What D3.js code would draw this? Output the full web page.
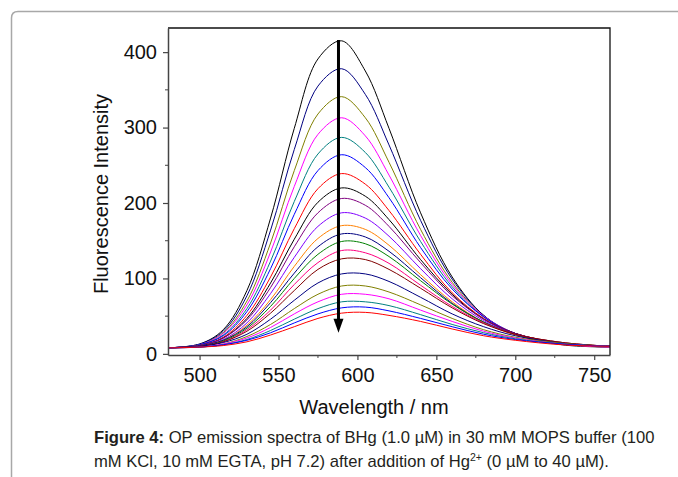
<!DOCTYPE html>
<html>
  <head>
    <meta charset="utf-8">
    <script src="https://d3js.org/d3.v7.min.js"></script>
    <title>OP emission spectra</title>
    <style>
      body { margin: 0px; background: #fff; }
    </style>
  </head>
  <body>
    <script>
      // sample wavelengths (nm) for every spectrum
      const wavelengths = [480, 500, 515, 530, 545, 560, 575, 590, 605, 620, 640, 660, 680, 700, 730, 760];
      // Hg2+ added (µM), one spectrum each, top to bottom
      const hgConc = [0, 2, 4, 6, 8, 10, 12, 14, 16, 18, 20, 22, 24, 26, 28, 30, 32, 34, 36, 38, 40];
      const intensity = [
        [8, 13, 32, 84, 180, 299, 391, 415, 375, 299, 187, 102, 51, 26, 12, 9],
        [8, 13, 30, 77, 164, 271, 355, 378, 344, 277, 177, 99, 51, 27, 13, 9],
        [8, 12, 28, 70, 147, 243, 318, 341, 313, 254, 165, 95, 50, 27, 13, 9],
        [8, 12, 27, 65, 135, 222, 291, 313, 289, 237, 157, 92, 50, 27, 13, 9],
        [8, 12, 25, 60, 123, 202, 265, 287, 267, 221, 149, 89, 49, 27, 14, 10],
        [8, 12, 24, 56, 113, 185, 243, 264, 247, 207, 141, 86, 49, 27, 14, 10],
        [8, 11, 22, 51, 102, 166, 219, 239, 225, 190, 132, 81, 47, 27, 14, 10],
        [8, 11, 21, 47, 94, 152, 201, 220, 209, 178, 125, 79, 46, 27, 14, 10],
        [8, 11, 21, 45, 88, 142, 187, 206, 197, 169, 121, 77, 46, 27, 14, 10],
        [8, 11, 19, 41, 80, 128, 169, 187, 180, 156, 113, 73, 44, 26, 14, 10],
        [8, 11, 18, 38, 72, 116, 153, 170, 165, 144, 105, 69, 42, 25, 14, 10],
        [8, 11, 18, 36, 68, 107, 142, 159, 155, 136, 101, 67, 42, 26, 14, 10],
        [8, 10, 17, 34, 63, 100, 132, 149, 146, 129, 97, 66, 42, 26, 15, 10],
        [8, 10, 16, 32, 58, 92, 121, 137, 134, 120, 91, 63, 41, 26, 15, 10],
        [8, 10, 16, 30, 54, 84, 112, 126, 125, 112, 87, 61, 40, 26, 15, 10],
        [8, 10, 15, 26, 46, 71, 94, 106, 106, 96, 75, 53, 36, 24, 14, 10],
        [8, 9, 13, 23, 39, 60, 79, 90, 90, 82, 65, 47, 32, 22, 14, 10],
        [8, 9, 13, 21, 35, 53, 69, 79, 79, 73, 58, 43, 30, 21, 13, 10],
        [8, 9, 12, 19, 31, 46, 60, 69, 69, 64, 52, 39, 28, 20, 13, 10],
        [8, 9, 12, 18, 28, 41, 53, 61, 62, 57, 47, 36, 26, 19, 13, 10],
        [8, 9, 11, 16, 25, 36, 47, 54, 55, 51, 43, 33, 24, 18, 12, 10]
      ];
      const lineColors = ['#000000', '#000080', '#808000', '#ff00ff', '#008080', '#0000ff', '#ff0000',
        '#000000', '#800080', '#8000ff', '#ff8000', '#000080', '#008000', '#ff0080', '#800000',
        '#000080', '#808000', '#ff00ff', '#008080', '#0000ff', '#ff0000'];
      const xTicks = [500, 550, 600, 650, 700, 750];
      const xMinor = [525, 575, 625, 675, 725];
      const yTicks = [0, 100, 200, 300, 400];
      const yMinor = [50, 150, 250, 350];
      // arrow: wavelength, from / to intensity
      const arrowX = 588, arrowFrom = 416, arrowTo = 28;

      const font = "'Liberation Sans', Arial, sans-serif";
      const margin = { left: 168, right: 68, top: 28, bottom: 122 };
      const width = 678, height = 477;
      const innerWidth = width - margin.left - margin.right;
      const innerHeight = height - margin.top - margin.bottom;

      const svg = d3.select('body').append('svg')
        .attr('width', width)
        .attr('height', height);

      // page frame
      svg.append('path')
        .attr('d', 'M11.5,480 L11.5,18 Q11.5,11.5 18,11.5 L690,11.5')
        .attr('fill', 'none')
        .attr('stroke', '#a8a8a8')
        .attr('stroke-width', 1.5);

      const g = svg.append('g')
        .attr('transform', `translate(${margin.left},${margin.top})`);

      const xScale = d3.scaleLinear().domain([480, 760]).range([0, innerWidth]);
      const yScale = d3.scaleLinear().domain([-1.5, 432]).range([innerHeight, 0]);

      const line = d3.line()
        .x((d, i) => xScale(wavelengths[i]))
        .y(d => yScale(d))
        .curve(d3.curveCatmullRom.alpha(0.5));

      g.selectAll('path.spectrum').data(intensity)
        .enter().append('path')
          .attr('class', 'spectrum')
          .attr('d', line)
          .attr('fill', 'none')
          .attr('stroke', (d, i) => lineColors[i])
          .attr('stroke-width', 1);

      // top / right frame
      g.append('path')
        .attr('d', `M0,0 H${innerWidth} V${innerHeight}`)
        .attr('fill', 'none')
        .attr('stroke', '#111')
        .attr('stroke-width', 1.3);

      const xAxis = d3.axisBottom(xScale).tickValues(xTicks).tickSize(5).tickPadding(8).tickSizeOuter(0);
      const yAxis = d3.axisLeft(yScale).tickValues(yTicks).tickSize(5).tickPadding(6).tickSizeOuter(0);

      const xAxisG = g.append('g').attr('transform', `translate(0,${innerHeight})`).call(xAxis);
      const yAxisG = g.append('g').call(yAxis);
      [xAxisG, yAxisG].forEach(a => {
        a.attr('font-size', 20).attr('font-family', font);
        a.select('.domain').attr('stroke', '#444').attr('stroke-width', 1.5);
        a.selectAll('.tick line').attr('stroke', '#444').attr('stroke-width', 1.2);
        a.selectAll('.tick text').attr('fill', '#111');
      });

      xAxisG.selectAll('line.minor').data(xMinor)
        .enter().append('line')
          .attr('class', 'minor')
          .attr('x1', d => xScale(d)).attr('x2', d => xScale(d))
          .attr('y1', 0).attr('y2', 3)
          .attr('stroke', '#444');
      yAxisG.selectAll('line.minor').data(yMinor)
        .enter().append('line')
          .attr('class', 'minor')
          .attr('y1', d => yScale(d)).attr('y2', d => yScale(d))
          .attr('x1', 0).attr('x2', -3)
          .attr('stroke', '#444');

      // arrow
      g.append('line')
        .attr('x1', xScale(arrowX)).attr('x2', xScale(arrowX))
        .attr('y1', yScale(arrowFrom)).attr('y2', yScale(arrowTo) - 12)
        .attr('stroke', '#000')
        .attr('stroke-width', 3);
      g.append('path')
        .attr('d', `M${xScale(arrowX) - 5},${yScale(arrowTo) - 14} L${xScale(arrowX) + 5},${yScale(arrowTo) - 14} L${xScale(arrowX)},${yScale(arrowTo)} Z`)
        .attr('fill', '#000');

      // axis titles
      svg.append('text')
        .attr('x', 374)
        .attr('y', 414)
        .attr('text-anchor', 'middle')
        .attr('font-size', 20).attr('font-family', font).attr('fill', '#111')
        .text('Wavelength / nm');

      svg.append('text')
        .attr('transform', 'translate(108,194) rotate(-90)')
        .attr('text-anchor', 'middle')
        .attr('font-size', 20).attr('font-family', font).attr('fill', '#111')
        .text('Fluorescence Intensity');

      // caption
      const cap1 = svg.append('text').attr('x', 94).attr('y', 443)
        .attr('font-size', 16.6).attr('font-family', font).attr('fill', '#231f20');
      cap1.append('tspan').style('font-weight', 'bold').text('Figure 4:');
      cap1.append('tspan').text(' OP emission spectra of BHg (1.0 µM) in 30 mM MOPS buffer (100');

      const cap2 = svg.append('text').attr('x', 94).attr('y', 467)
        .attr('font-size', 16.6).attr('font-family', font).attr('fill', '#231f20');
      cap2.append('tspan').text('mM KCl, 10 mM EGTA, pH 7.2) after addition of Hg');
      cap2.append('tspan').attr('dy', -6).attr('font-size', 10.5).text('2+');
      cap2.append('tspan').attr('dy', 6).text(' (0 µM to 40 µM).');
    </script>
  </body>
</html>
